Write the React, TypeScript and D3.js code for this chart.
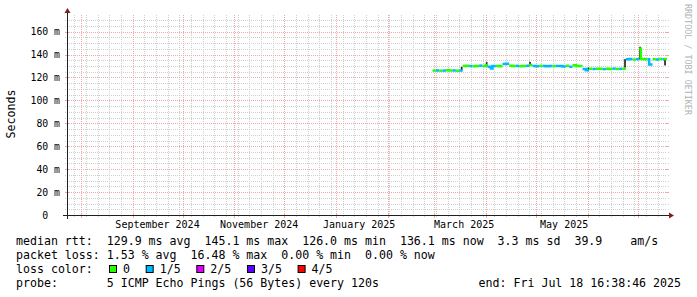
import React from 'react';
import * as d3 from 'd3';

const W = 697;
const H = 297;
const END = new Date(2025, 6, 18, 16, 38, 46);
const SPAN_DAYS = 360;
const Y_MAX = 174.5;

// median rtt samples (ms) with loss bucket index
const sampleDates = [
  '2025-02-28', '2025-03-02', '2025-03-04', '2025-03-06', '2025-03-08', '2025-03-10', '2025-03-12', '2025-03-14', '2025-03-16',
  '2025-03-18', '2025-03-20', '2025-03-22', '2025-03-24', '2025-03-26', '2025-03-28', '2025-03-30', '2025-04-01', '2025-04-02',
  '2025-04-04', '2025-04-05', '2025-04-07', '2025-04-09', '2025-04-11', '2025-04-13', '2025-04-15', '2025-04-17', '2025-04-19',
  '2025-04-21', '2025-04-23', '2025-04-25', '2025-04-27', '2025-04-29', '2025-05-01', '2025-05-03', '2025-05-05', '2025-05-07',
  '2025-05-09', '2025-05-11', '2025-05-13', '2025-05-15', '2025-05-17', '2025-05-19', '2025-05-21', '2025-05-23', '2025-05-25',
  '2025-05-27', '2025-05-29', '2025-05-31', '2025-06-02', '2025-06-04', '2025-06-06', '2025-06-08', '2025-06-10', '2025-06-12',
  '2025-06-14', '2025-06-16', '2025-06-18', '2025-06-20', '2025-06-22', '2025-06-24', '2025-06-26', '2025-06-28', '2025-06-30',
  '2025-07-02', '2025-07-03', '2025-07-05', '2025-07-07', '2025-07-08', '2025-07-10', '2025-07-12', '2025-07-14', '2025-07-16',
  '2025-07-17',
];
const medianMs = [
  126.0, 126.1, 125.9, 126.0, 126.2, 126.0, 126.1, 125.9, 126.0,
  130.0, 130.2, 130.0, 129.8, 130.1, 130.3, 130.0, 130.8, 129.4,
  127.9, 129.9, 130.1, 129.8, 131.8, 132.0, 130.2, 129.9, 130.1,
  129.7, 130.0, 130.2, 130.9, 130.0, 129.8, 130.1, 130.0, 129.7,
  130.0, 129.9, 130.1, 130.0, 129.6, 130.2, 129.3, 130.6, 130.1,
  130.0, 127.4, 126.2, 127.6, 127.4, 127.5, 127.6, 127.3, 127.5,
  127.4, 127.7, 127.4, 127.5, 127.6, 135.8, 136.2, 135.6, 136.0,
  145.1, 136.1, 135.9, 136.0, 131.3, 136.0, 135.7, 136.2, 135.9,
  136.1,
];
const lossIdx = [
  0, 1, 0, 1, 0, 0, 1, 0, 1,
  0, 0, 1, 0, 0, 1, 0, 0, 1,
  1, 1, 0, 0, 1, 1, 0, 0, 1,
  0, 0, 1, 0, 1, 1, 0, 1, 1,
  1, 0, 1, 1, 1, 0, 1, 0, 0,
  0, 1, 1, 0, 1, 0, 0, 1, 0,
  0, 1, 0, 1, 0, 1, 1, 0, 1,
  0, 0, 0, 1, 1, 0, 1, 0, 1,
  0,
];

// dark smoke (ping spread) spikes
const smokeDates = ['2025-03-17', '2025-04-01', '2025-04-27', '2025-06-01', '2025-06-23', '2025-07-02', '2025-07-17'];
const smokeLow = [126.0, 130.0, 130.0, 126.5, 128.5, 135.5, 130.5];
const smokeHigh = [129.2, 133.4, 133.6, 128.6, 136.0, 146.8, 136.3];

const yMajorTicks = [0, 20, 40, 60, 80, 100, 120, 140, 160];
const yMinorStep = 5;
const monthLabelDates = ['2024-09-16', '2024-11-16', '2025-01-15', '2025-03-19', '2025-05-18'];
const monthLabels = ['September 2024', 'November 2024', 'January 2025', 'March 2025', 'May 2025'];

const lossColors = ['#26ff00', '#00b8ff', '#dd00ff', '#5e00ff', '#ff0000'];
const lossNames = ['0', '1/5', '2/5', '3/5', '4/5'];

const legendLine1 = 'median rtt:  129.9 ms avg  145.1 ms max  126.0 ms min  136.1 ms now  3.3 ms sd  39.9    am/s';
const legendLine2 = 'packet loss: 1.53 % avg  16.48 % max  0.00 % min  0.00 % now';
const legendLine3 = 'loss color:';
const legendLine4 = 'probe:       5 ICMP Echo Pings (56 Bytes) every 120s';
const legendEnd = 'end: Fri Jul 18 16:38:46 2025';

const FONT = "'DejaVu Sans Mono', monospace";
const GRID = '#cfcfcf';
const MGRID = '#f0a8a8';
const ARROW = '#801f1f';
const AXIS = '#1f1f1f';

const parseDay = d3.timeParse('%Y-%m-%d');
const PRE: React.CSSProperties = { whiteSpace: 'pre' };

export default function App() {
  const X0 = 67, X1 = 667, Y0 = 215, Y1 = 15;
  const start = d3.timeDay.offset(END, -SPAN_DAYS);
  const x = d3.scaleTime().domain([start, END]).range([X0, X1]);
  const y = d3.scaleLinear().domain([0, Y_MAX]).range([Y0, Y1]);

  const dates = sampleDates.map((s) => parseDay(s) as Date);

  // group consecutive samples with the same loss bucket into runs
  const runs: { k: number; pts: [Date, number][] }[] = [];
  dates.forEach((d, i) => {
    const next = i + 1 < dates.length ? dates[i + 1] : END;
    const k = lossIdx[i];
    const last = runs[runs.length - 1];
    if (last && last.k === k) {
      last.pts.pop();
      last.pts.push([d, medianMs[i]], [next, medianMs[i]]);
    } else {
      runs.push({ k, pts: [[d, medianMs[i]], [next, medianMs[i]]] });
    }
  });
  const line = d3
    .line<[Date, number]>()
    .x((p) => x(p[0]))
    .y((p) => y(p[1]))
    .curve(d3.curveStepAfter);

  const weeks = d3.timeWeek.range(d3.timeDay.offset(start, 1), END);
  const months = d3.timeMonth.range(d3.timeDay.offset(start, 1), END);
  const yMinor = d3.range(yMinorStep, Y_MAX, yMinorStep).filter((v) => v % 20 !== 0);

  const cw = 6.98;
  let lx = 109;
  const legendItems = lossNames.map((name, i) => {
    const item = { bx: lx, tx: lx + 14, name, color: lossColors[i] };
    lx = lx + 14 + name.length * cw + 15.7;
    return item;
  });

  const crisp = (v: number) => Math.round(v) + 0.5;

  return (
    <svg width={W} height={H} style={{ position: 'absolute', left: 0, top: 0, background: '#fff' }} fontFamily={FONT}>
      <rect x={0} y={0} width={W} height={H} fill="#ffffff" />
      {/* minor grid */}
      <g stroke={GRID} strokeWidth={1} fill="none">
        {weeks.map((w, i) => (
          <g key={'w' + i}>
            <line x1={crisp(x(w))} x2={crisp(x(w))} y1={Y1} y2={Y0} strokeDasharray="1 1" />
            <line x1={crisp(x(w))} x2={crisp(x(w))} y1={Y0 + 1} y2={Y0 + 2} />
          </g>
        ))}
        {yMinor.map((v, i) => (
          <g key={'ym' + i}>
            <line x1={X0} x2={X1} y1={crisp(y(v))} y2={crisp(y(v))} strokeDasharray="1 1" />
            <line x1={X0 - 2} x2={X0 - 1} y1={crisp(y(v))} y2={crisp(y(v))} />
            <line x1={X1 + 1} x2={X1 + 2} y1={crisp(y(v))} y2={crisp(y(v))} />
          </g>
        ))}
      </g>
      {/* major grid */}
      <g stroke={MGRID} strokeWidth={1} fill="none">
        {months.map((m, i) => (
          <g key={'m' + i}>
            <line x1={crisp(x(m))} x2={crisp(x(m))} y1={Y1} y2={Y0} strokeDasharray="1 1" />
            <line x1={crisp(x(m))} x2={crisp(x(m))} y1={Y0 - 2} y2={Y0 + 3} />
          </g>
        ))}
        {yMajorTicks.filter((v) => v > 0).map((v, i) => (
          <g key={'yM' + i}>
            <line x1={X0} x2={X1} y1={crisp(y(v))} y2={crisp(y(v))} strokeDasharray="1 1" />
            <line x1={X0 - 2} x2={X0 + 2} y1={crisp(y(v))} y2={crisp(y(v))} />
            <line x1={X1 - 2} x2={X1 + 2} y1={crisp(y(v))} y2={crisp(y(v))} />
          </g>
        ))}
      </g>

      {/* smoke */}
      <g fill="#222">
        {smokeDates.map((s, i) => {
          const d = parseDay(s) as Date;
          const x0 = x(d);
          const x1 = x(d3.timeDay.offset(d, 1));
          return <rect key={'s' + i} x={x0} y={y(smokeHigh[i])} width={Math.max(1.5, x1 - x0)} height={y(smokeLow[i]) - y(smokeHigh[i])} />;
        })}
      </g>

      {/* median line coloured by loss */}
      <g fill="none" strokeWidth={2.5}>
        {runs.map((r, i) => (
          <path key={'r' + i} d={line(r.pts) || ''} stroke={lossColors[r.k]} />
        ))}
      </g>

      {/* axes */}
      <g stroke={AXIS} strokeWidth={1}>
        <line x1={X0 - 4} x2={X1 + 4} y1={Y0 + 0.5} y2={Y0 + 0.5} />
        <line x1={X0 + 0.5} x2={X0 + 0.5} y1={Y0 + 4} y2={Y1 - 4} />
      </g>
      <polygon points={`${X1 + 2},${Y0 - 2.5} ${X1 + 2},${Y0 + 3.5} ${X1 + 7},${Y0 + 0.5}`} fill={ARROW} />
      <polygon points={`${X0 - 2.5},${Y1 - 2} ${X0 + 3.5},${Y1 - 2} ${X0 + 0.5},${Y1 - 7}`} fill={ARROW} />

      {/* y tick labels */}
      <g fontSize={9.8} fill="#000" textAnchor="end">
        {yMajorTicks.map((v, i) => (
          <text key={'yl' + i} x={60} y={y(v) + 3.7} xmlSpace="preserve" style={PRE}>
            {v === 0 ? '0  ' : `${v} m`}
          </text>
        ))}
      </g>
      {/* x labels */}
      <g fontSize={10} fill="#000" textAnchor="middle">
        {monthLabelDates.map((s, i) => (
          <text key={'xl' + i} x={x(parseDay(s) as Date)} y={228}>
            {monthLabels[i]}
          </text>
        ))}
      </g>

      {/* axis title */}
      <text transform={`translate(14.5,114) rotate(-90)`} textAnchor="middle" fontSize={11.6} fill="#000">
        Seconds
      </text>

      {/* watermark */}
      <text transform={`translate(684.5,4) rotate(90)`} fontSize={8.4} fill="#b3b3b3">
        RRDTOOL / TOBI OETIKER
      </text>

      {/* legend */}
      <g fontSize={11.6} fill="#000">
        <text x={16} y={245} xmlSpace="preserve" style={PRE}>{legendLine1}</text>
        <text x={16} y={259} xmlSpace="preserve" style={PRE}>{legendLine2}</text>
        <text x={16} y={273} xmlSpace="preserve" style={PRE}>{legendLine3}</text>
        {legendItems.map((it, i) => (
          <g key={'lg' + i}>
            <rect x={it.bx + 0.5} y={265.5} width={7} height={7} fill={it.color} stroke="#000" strokeWidth={1} />
            <text x={it.tx} y={273}>{it.name}</text>
          </g>
        ))}
        <text x={16} y={287} xmlSpace="preserve" style={PRE}>{legendLine4}</text>
        <text x={681} y={287} textAnchor="end" xmlSpace="preserve" style={PRE}>{legendEnd}</text>
      </g>
    </svg>
  );
}
